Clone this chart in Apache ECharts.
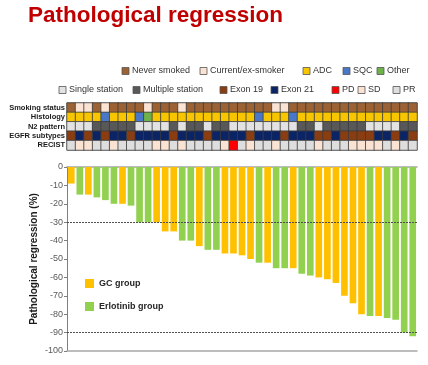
<!DOCTYPE html>
<html><head><meta charset="utf-8">
<script src="https://cdn.jsdelivr.net/npm/echarts@6/dist/echarts.min.js"></script>
<style>html,body{margin:0;padding:0;background:#fff}#c{width:428px;height:365px}</style>
</head><body><div id="c"></div>
<script>
// ---- data ----
var patients = [];
for (var i = 1; i <= 41; i++) patients.push('P' + i);
var regression = [-9,-15,-15,-16.5,-18,-20,-20,-21,-30,-30,-30,-35,-35,-40,-40,-43,-45,-45,-47,-47,-48,-50,-52,-52,-55,-55,-55,-58,-59,-60,-61,-63,-70,-74,-80,-81,-81,-82,-83,-90,-92];
var group = ['G','E','G','E','E','E','G','E','E','E','G','G','G','E','E','G','E','E','G','G','G','G','E','G','E','E','G','E','E','G','G','G','G','G','G','E','G','E','E','E','E'];
var refLines = [-30, -90];
var rowLabels = ['Smoking status','Histology','N2 pattern','EGFR subtypes','RECIST'];
// N = never smoked, C = current/ex
var smoking   = 'NCCNCNNNNCNNNCNNNNNNNNNNCCNNNNNNNNNNNNNNN';
// A = ADC, S = SQC, O = Other
var histology = 'AAAASAAASOAAAAAAAAAAAASAAASAAAAAAAAAAAAAA';
// S = single station, M = multiple station
var n2        = 'SSSMMMMMSSSSMSMMSMMSSSSSSSSMMSMMMMMSSSSMM';
// B = Exon 19, N = Exon 21
var egfr      = 'BNBNBNNBNNNNBNNNBNNNNBNNNBNNNBBNBBBBNNBNB';
// P = PR, S = SD, D = PD
var recist    = 'PSSPPSPPPPSSPSPPPPSDPSPPSPPPPSPPPSSSSPSPP';
var legendRow1 = ['Never smoked','Current/ex-smoker','ADC','SQC','Other'];
var legendRow2 = ['Single station','Multiple station','Exon 19','Exon 21','PD','SD','PR'];
var groupNames = ['GC group','Erlotinib group'];

// ---- styles ----
var C = {
  never:'#9c6233', current:'#fbe3d4', adc:'#f7c600', sqc:'#4a78c8', other:'#6fb24a',
  single:'#e2e2e2', multiple:'#585858', ex19:'#8a3d10', ex21:'#0b2466',
  pd:'#ff0000', sd:'#fbe3d4', pr:'#dedede'
};
var codeMaps = [
  {N:C.never, C:C.current},
  {A:C.adc, S:C.sqc, O:C.other},
  {S:C.single, M:C.multiple},
  {B:C.ex19, N:C.ex21},
  {P:C.pr, S:C.sd, D:C.pd}
];
var rows = [smoking, histology, n2, egfr, recist];
var colorList = [];
var heatData = [];
rows.forEach(function (r, ri) {
  for (var k = 0; k < r.length; k++) {
    var col = codeMaps[ri][r[k]];
    var idx = colorList.indexOf(col);
    if (idx < 0) { colorList.push(col); idx = colorList.length - 1; }
    heatData.push([k, ri, idx]);
  }
});
var pieces = colorList.map(function (c, i) { return {value: i, color: c}; });

var gcData = regression.map(function (v, i) { return group[i] === 'G' ? v : '-'; });
var erData = regression.map(function (v, i) { return group[i] === 'E' ? v : '-'; });

var legColors1 = [C.never, C.current, C.adc, C.sqc, C.other];
var legX1 = [122, 200, 303, 343, 377];
var legColors2 = [C.single, C.multiple, C.ex19, C.ex21, C.pd, C.sd, C.pr];
var legX2 = [59, 133, 220, 271, 332, 358, 393];
var graphics = [{
  type:'text', left: 28, top: 4,
  style:{text:'Pathological regression', fill:'#c00000', font:'bold 22.5px "Liberation Sans", Arial, sans-serif'}
}];
function addLeg(labels, colors, xs, y) {
  labels.forEach(function (t, i) {
    graphics.push({type:'rect', shape:{x:xs[i], y:y-3.5, width:7, height:7},
      style:{fill:colors[i], stroke:'#555', lineWidth:0.8}});
    graphics.push({type:'text', x:xs[i]+10, y:y,
      style:{text:t, fill:'#333', font:'9px "Liberation Sans", Arial, sans-serif', verticalAlign:'middle'}});
  });
}
addLeg(legendRow1, legColors1, legX1, 71);
addLeg(legendRow2, legColors2, legX2, 90);

var chart = echarts.init(document.getElementById('c'), null, {renderer:'canvas'});
chart.setOption({
  animation:false,
  backgroundColor:'#fff',
  graphic: graphics,
  grid:[
    {left:67, right:11, top:103, height:47, show:true, borderColor:'#9a9a9a', borderWidth:1},
    {left:67, right:11, top:167, bottom:14}
  ],
  xAxis:[
    {gridIndex:0, type:'category', data:patients, show:false},
    {gridIndex:1, type:'category', data:patients, axisTick:{show:false}, axisLabel:{show:false},
     axisLine:{onZero:false, lineStyle:{color:'#a6a6a6', width:1.5}}},
    {gridIndex:1, type:'category', data:patients, position:'top', axisTick:{show:false}, axisLabel:{show:false},
     axisLine:{onZero:false, lineStyle:{color:'#a6a6a6', width:1.5}}}
  ],
  yAxis:[
    {gridIndex:0, type:'category', data:rowLabels, inverse:true, axisLine:{show:false}, axisTick:{show:false},
     axisLabel:{interval:0, margin:2, color:'#1a1a1a', fontWeight:'bold', fontSize:7.5, fontFamily:'"Liberation Sans", Arial, sans-serif'}},
    {gridIndex:1, type:'value', min:-100, max:0, interval:10,
     name:'Pathological regression (%)', nameLocation:'middle', nameGap:28, nameRotate:90, nameMoveOverlap:false,
     nameTextStyle:{fontWeight:'bold', fontSize:10, color:'#1a1a1a', fontFamily:'"Liberation Sans", Arial, sans-serif'},
     axisLine:{show:true, lineStyle:{color:'#7f7f7f'}}, axisTick:{show:true, length:3, lineStyle:{color:'#7f7f7f'}},
     axisLabel:{color:'#595959', fontSize:9, margin:4, fontFamily:'"Liberation Sans", Arial, sans-serif'},
     splitLine:{show:false}}
  ],
  visualMap:{type:'piecewise', show:false, seriesIndex:0, dimension:2, pieces:pieces},
  legend:{orient:'vertical', left:80, top:274, itemWidth:9, itemHeight:9, itemGap:14,
    data:groupNames, icon:'rect',
    textStyle:{fontWeight:'bold', fontSize:9, color:'#262626', fontFamily:'"Liberation Sans", Arial, sans-serif'}},
  series:[
    {type:'heatmap', xAxisIndex:0, yAxisIndex:0, data:heatData,
     itemStyle:{borderColor:'#3c3c3c', borderWidth:0.8}},
    {name:groupNames[0], type:'bar', xAxisIndex:1, yAxisIndex:1, data:gcData, barWidth:'78%', barGap:'-100%',
     itemStyle:{color:'#ffc000'},
     markLine:{silent:true, symbol:'none', label:{show:false},
       lineStyle:{color:'#505050', type:[2,1], width:1},
       data: refLines.map(function (v) { return {yAxis:v}; })}},
    {name:groupNames[1], type:'bar', xAxisIndex:1, yAxisIndex:1, data:erData, barWidth:'78%', barGap:'-100%',
     itemStyle:{color:'#92d050'}}
  ]
});
</script></body></html>
